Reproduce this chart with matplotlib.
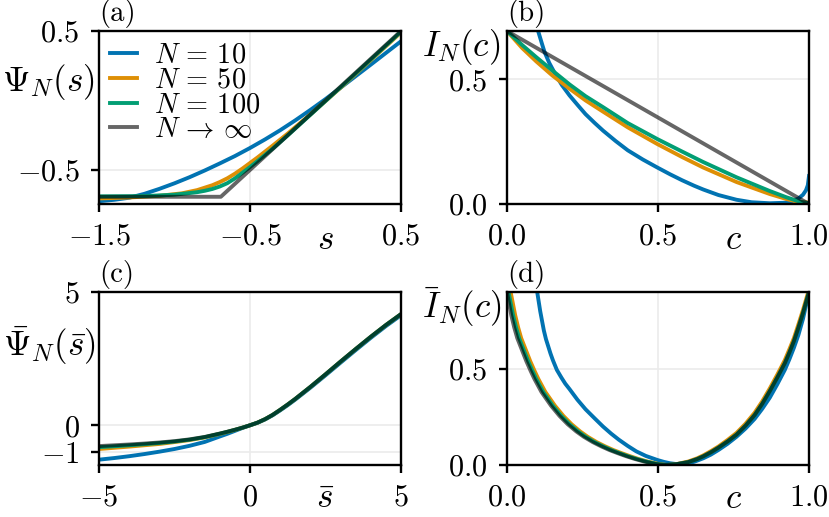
import numpy as np
import matplotlib
matplotlib.use("Agg")
import matplotlib.pyplot as plt

# ---- data ----
# (a) Psi_N(s)
a_s_10 = [-1.5, -1.4, -1.3, -1.2, -1.1, -1.0, -0.9, -0.8, -0.7, -0.6, -0.5,
          -0.4, -0.3, -0.2, -0.1, 0.0, 0.1, 0.2, 0.3, 0.4, 0.5]
a_psi_10 = [-0.725, -0.715, -0.70, -0.672, -0.636, -0.596, -0.552, -0.504, -0.453, -0.4, -0.342,
            -0.28, -0.214, -0.143, -0.068, 0.01, 0.092, 0.175, 0.258, 0.342, 0.426]
a_s_50 = [-1.5, -1.3, -1.1, -0.95, -0.85, -0.75, -0.7, -0.65, -0.6, -0.55, -0.45,
          -0.35, -0.25, -0.1, 0.1, 0.3, 0.5]
a_psi_50 = [-0.705, -0.698, -0.686, -0.668, -0.645, -0.61, -0.587, -0.56, -0.527, -0.49, -0.41,
            -0.325, -0.238, -0.10, 0.092, 0.29, 0.49]
a_s_100 = [-1.5, -1.2, -1.0, -0.85, -0.8, -0.75, -0.7, -0.65, -0.6, -0.55, -0.5,
           -0.45, -0.35, -0.25, -0.1, 0.1, 0.3, 0.5]
a_psi_100 = [-0.69, -0.688, -0.678, -0.66, -0.65, -0.637, -0.619, -0.595, -0.561, -0.52, -0.479,
             -0.436, -0.347, -0.251, -0.103, 0.095, 0.295, 0.495]
a_s_inf = [-1.5, -0.693, 0.5]
a_psi_inf = [-0.693, -0.693, 0.5]

# (b) I_N(c)
b_c_10 = [0.093, 0.098, 0.103, 0.11, 0.117, 0.124, 0.14, 0.16, 0.182, 0.207, 0.235, 0.26,
          0.29, 0.318, 0.36, 0.40, 0.45, 0.498, 0.54, 0.58, 0.62, 0.65, 0.7, 0.76, 0.81,
          0.87, 0.92, 0.945, 0.965, 0.98, 0.99, 0.996, 1.0]
b_i_10 = [0.73, 0.715, 0.693, 0.665, 0.637, 0.61, 0.565, 0.52, 0.476, 0.435, 0.395, 0.36,
          0.325, 0.294, 0.252, 0.215, 0.178, 0.146, 0.119, 0.095, 0.073, 0.058, 0.036, 0.017, 0.007,
          0.003, 0.005, 0.012, 0.022, 0.037, 0.055, 0.075, 0.112]
b_c_50 = [0.0, 0.05, 0.097, 0.15, 0.207, 0.26, 0.318, 0.40, 0.498, 0.58, 0.65, 0.76, 0.87, 0.925, 0.97, 1.0]
b_i_50 = [0.693, 0.625, 0.571, 0.515, 0.462, 0.415, 0.37, 0.307, 0.24, 0.188, 0.146, 0.088, 0.04, 0.02, 0.007, 0.006]
b_c_100 = [0.0, 0.05, 0.097, 0.15, 0.207, 0.26, 0.318, 0.40, 0.498, 0.58, 0.65, 0.76, 0.87, 0.925, 0.97, 1.0]
b_i_100 = [0.693, 0.637, 0.588, 0.535, 0.479, 0.432, 0.388, 0.324, 0.26, 0.21, 0.168, 0.107, 0.052, 0.027, 0.009, 0.003]
b_c_inf = [0.0, 1.0]
b_i_inf = [0.693, 0.0]

# (c) bar Psi_N(bar s)
c_s = [-5, -4.5, -4, -3.5, -3, -2.5, -2, -1.5, -1, -0.75, -0.5, -0.25,
       0, 0.25, 0.5, 0.75, 1, 1.25, 1.5, 2, 2.5, 3, 3.5, 4, 4.5, 5]
c_psi_10 = [-1.29, -1.23, -1.16, -1.08, -0.99, -0.89, -0.77, -0.625, -0.42, -0.32, -0.21, -0.1,
            0, 0.095, 0.22, 0.375, 0.56, 0.755, 0.965, 1.41, 1.875, 2.35, 2.82, 3.28, 3.72, 4.13]
c_psi_50 = [-0.89, -0.845, -0.80, -0.75, -0.70, -0.63, -0.555, -0.455, -0.322, -0.25, -0.172, -0.09,
            0, 0.1, 0.23, 0.39, 0.58, 0.78, 0.99, 1.44, 1.91, 2.39, 2.86, 3.32, 3.76, 4.17]
c_psi_100 = [-0.82, -0.787, -0.75, -0.71, -0.665, -0.61, -0.54, -0.445, -0.315, -0.245, -0.17, -0.09,
             0, 0.1, 0.23, 0.39, 0.58, 0.78, 0.99, 1.44, 1.91, 2.39, 2.86, 3.32, 3.76, 4.17]
c_psi_inf = [-0.78, -0.75, -0.72, -0.685, -0.645, -0.595, -0.528, -0.437, -0.31, -0.242, -0.168, -0.089,
             0, 0.1, 0.23, 0.39, 0.58, 0.78, 0.99, 1.44, 1.91, 2.39, 2.86, 3.32, 3.76, 4.17]

# (d) bar I_N(c)
d_c_10 = [0.100, 0.105, 0.11, 0.116, 0.122, 0.129, 0.136, 0.144, 0.152, 0.165, 0.18, 0.193,
          0.207, 0.233, 0.26, 0.29, 0.318, 0.345, 0.37, 0.40, 0.428, 0.46, 0.498, 0.52,
          0.54, 0.56, 0.58, 0.60, 0.62, 0.65, 0.675, 0.7, 0.73, 0.76, 0.79, 0.82, 0.845,
          0.87, 0.895, 0.92, 0.935, 0.95, 0.965, 0.98, 0.99, 1.0]
d_i_10 = [0.90, 0.85, 0.80, 0.75, 0.70, 0.655, 0.62, 0.58, 0.545, 0.495, 0.455, 0.423,
          0.395, 0.34, 0.29, 0.243, 0.20, 0.163, 0.132, 0.099, 0.071, 0.047, 0.026, 0.016,
          0.009, 0.005, 0.005, 0.009, 0.017, 0.035, 0.054, 0.078, 0.11, 0.147, 0.19, 0.24, 0.292,
          0.35, 0.42, 0.495, 0.55, 0.61, 0.677, 0.76, 0.83, 0.9]
d_c_50 = [0.012, 0.027, 0.037, 0.047, 0.062, 0.077, 0.092, 0.104, 0.127, 0.159, 0.187, 0.214,
          0.242, 0.267, 0.297, 0.325, 0.352, 0.377, 0.407, 0.434, 0.465, 0.503, 0.53, 0.56,
          0.6, 0.63, 0.65, 0.675, 0.7, 0.73, 0.76, 0.79, 0.82, 0.845, 0.87, 0.895, 0.92,
          0.935, 0.95, 0.965, 0.98, 0.99, 1.0]
d_i_50 = [0.90, 0.78, 0.715, 0.66, 0.60, 0.54, 0.487, 0.447, 0.38, 0.308, 0.255, 0.212,
          0.175, 0.147, 0.119, 0.097, 0.078, 0.063, 0.046, 0.032, 0.018, 0.005, 0.0, 0.004,
          0.018, 0.035, 0.05, 0.072, 0.096, 0.13, 0.167, 0.215, 0.272, 0.331, 0.398, 0.47, 0.546,
          0.602, 0.66, 0.732, 0.806, 0.86, 0.915]
d_c_100 = [0.005, 0.02, 0.03, 0.04, 0.055, 0.07, 0.085, 0.097, 0.12, 0.152, 0.18, 0.207,
           0.235, 0.26, 0.29, 0.318, 0.345, 0.37, 0.40, 0.428, 0.46, 0.498, 0.525, 0.56,
           0.6, 0.63, 0.65, 0.675, 0.7, 0.73, 0.76, 0.79, 0.82, 0.845, 0.87, 0.895, 0.92,
           0.935, 0.95, 0.965, 0.98, 0.99, 1.0]
d_i_100 = [0.90, 0.78, 0.715, 0.66, 0.60, 0.54, 0.487, 0.447, 0.38, 0.308, 0.255, 0.212,
           0.175, 0.147, 0.119, 0.097, 0.078, 0.063, 0.046, 0.032, 0.018, 0.005, 0.0, 0.004,
           0.015, 0.031, 0.045, 0.066, 0.09, 0.122, 0.158, 0.205, 0.26, 0.318, 0.384, 0.455, 0.53,
           0.585, 0.644, 0.715, 0.79, 0.845, 0.9]
d_c_inf = [0.0, 0.014, 0.024, 0.034, 0.049, 0.064, 0.079, 0.091, 0.114, 0.146, 0.174, 0.201,
           0.229, 0.254, 0.284, 0.312, 0.339, 0.364, 0.394, 0.422, 0.454, 0.492, 0.52, 0.56,
           0.6, 0.63, 0.65, 0.675, 0.7, 0.73, 0.76, 0.79, 0.82, 0.845, 0.87, 0.895, 0.92,
           0.935, 0.95, 0.965, 0.98, 0.99, 1.0]
d_i_inf = d_i_100

labels = [r"$N\,=\,10$", r"$N\,=\,50$", r"$N\,=\,100$", r"$N\,\to\,\infty$"]
colors = ["#0173b2", "#de8f05", "#029e73", "black"]
alphas = [1.0, 1.0, 1.0, 0.6]

plt.rcParams["mathtext.fontset"] = "cm"
plt.rcParams["font.family"] = "serif"
plt.rcParams["font.serif"] = ["cmr10", "DejaVu Serif"]

fig = plt.figure(figsize=(829 / 243, 517 / 243), dpi=243)

W = 302 / 829
H = 173 / 517
boxes = {
    "a": [99 / 829, 1 - 204 / 517, W, H],
    "b": [507 / 829, 1 - 204 / 517, W, H],
    "c": [99 / 829, 1 - 465 / 517, W, H],
    "d": [507 / 829, 1 - 465 / 517, W, H],
}

LW = 1.15
TICK_FS = 9.0
LABEL_FS = 10.4


def style(ax, xlim, ylim, xt, yt, xl, yl, ylab_y, ylab_x, tag):
    ax.set_xlim(*xlim)
    ax.set_ylim(*ylim)
    ax.set_xticks(xt, [r"$%s$" % t for t in xl])
    ax.set_yticks(yt, [r"$%s$" % t for t in yl])
    ax.tick_params(direction="out", length=2.4, width=0.7, labelsize=TICK_FS)
    ax.tick_params(axis="x", pad=3.2)
    ax.tick_params(axis="y", pad=3.4)
    ax.grid(True, color="#ebebeb", lw=0.5, zorder=0)
    ax.set_axisbelow(True)
    for sp in ax.spines.values():
        sp.set_linewidth(0.7)
    ax.yaxis.set_label_coords(ylab_x, ylab_y)
    ax.text(0.0, 1.015, tag, transform=ax.transAxes, fontsize=8.5, va="bottom")


# (a)
ax = fig.add_axes(boxes["a"])
for x, y, lab, col, al in zip([a_s_10, a_s_50, a_s_100, a_s_inf],
                               [a_psi_10, a_psi_50, a_psi_100, a_psi_inf],
                               labels, colors, alphas):
    ax.plot(x, y, color=col, alpha=al, lw=LW, label=lab)
style(ax, (-1.5, 0.5), (-0.745, 0.5), [-1.5, -0.5, 0.5], [-0.5, 0.5],
      ["-1.5", "-0.5", "0.5"], ["-0.5", "0.5"], 0.705, -0.014, "(a)")
ax.set_xlabel(r"$s$", fontsize=LABEL_FS, va="center")
ax.xaxis.set_label_coords(0.75, -0.21)
ax.set_ylabel(r"$\Psi_N(s)$", fontsize=LABEL_FS, rotation=0, ha="right", va="center")
ax.legend(loc="upper left", frameon=False, fontsize=8.4, handlelength=0.95,
          handletextpad=0.6, labelspacing=-0.05, borderaxespad=0.1, borderpad=0.3)

# (b)
ax = fig.add_axes(boxes["b"])
for x, y, lab, col, al in zip([b_c_10, b_c_50, b_c_100, b_c_inf],
                               [b_i_10, b_i_50, b_i_100, b_i_inf],
                               labels, colors, alphas):
    ax.plot(x, y, color=col, alpha=al, lw=LW, label=lab)
style(ax, (0, 1), (0, 0.693), [0, 0.5, 1], [0, 0.5],
      ["0.0", "0.5", "1.0"], ["0.0", "0.5"], 0.907, -0.023, "(b)")
ax.set_xlabel(r"$c$", fontsize=LABEL_FS, va="center")
ax.xaxis.set_label_coords(0.75, -0.21)
ax.set_ylabel(r"$I_N(c)$", fontsize=LABEL_FS, rotation=0, ha="right", va="center")

# (c)
ax = fig.add_axes(boxes["c"])
for y, lab, col, al in zip([c_psi_10, c_psi_50, c_psi_100, c_psi_inf],
                           labels, colors, alphas):
    ax.plot(c_s, y, color=col, alpha=al, lw=LW, label=lab)
style(ax, (-5, 5), (-1.49, 5), [-5, 0, 5], [-1, 0, 5],
      ["-5", "0", "5"], ["-1", "0", "5"], 0.688, -0.01, "(c)")
ax.set_xlabel(r"$\bar{s}$", fontsize=LABEL_FS, va="center")
ax.xaxis.set_label_coords(0.75, -0.2)
ax.set_ylabel(r"$\bar{\Psi}_N(\bar{s})$", fontsize=LABEL_FS, rotation=0, ha="right", va="center")

# (d)
ax = fig.add_axes(boxes["d"])
for x, y, lab, col, al in zip([d_c_10, d_c_50, d_c_100, d_c_inf],
                               [d_i_10, d_i_50, d_i_100, d_i_inf],
                               labels, colors, alphas):
    ax.plot(x, y, color=col, alpha=al, lw=LW, label=lab)
style(ax, (0, 1), (0, 0.9), [0, 0.5, 1], [0, 0.5],
      ["0.0", "0.5", "1.0"], ["0.0", "0.5"], 0.913, -0.017, "(d)")
ax.set_xlabel(r"$c$", fontsize=LABEL_FS, va="center")
ax.xaxis.set_label_coords(0.75, -0.2)
ax.set_ylabel(r"$\bar{I}_N(c)$", fontsize=LABEL_FS, rotation=0, ha="right", va="center")

fig.savefig("out.png", dpi=243)
